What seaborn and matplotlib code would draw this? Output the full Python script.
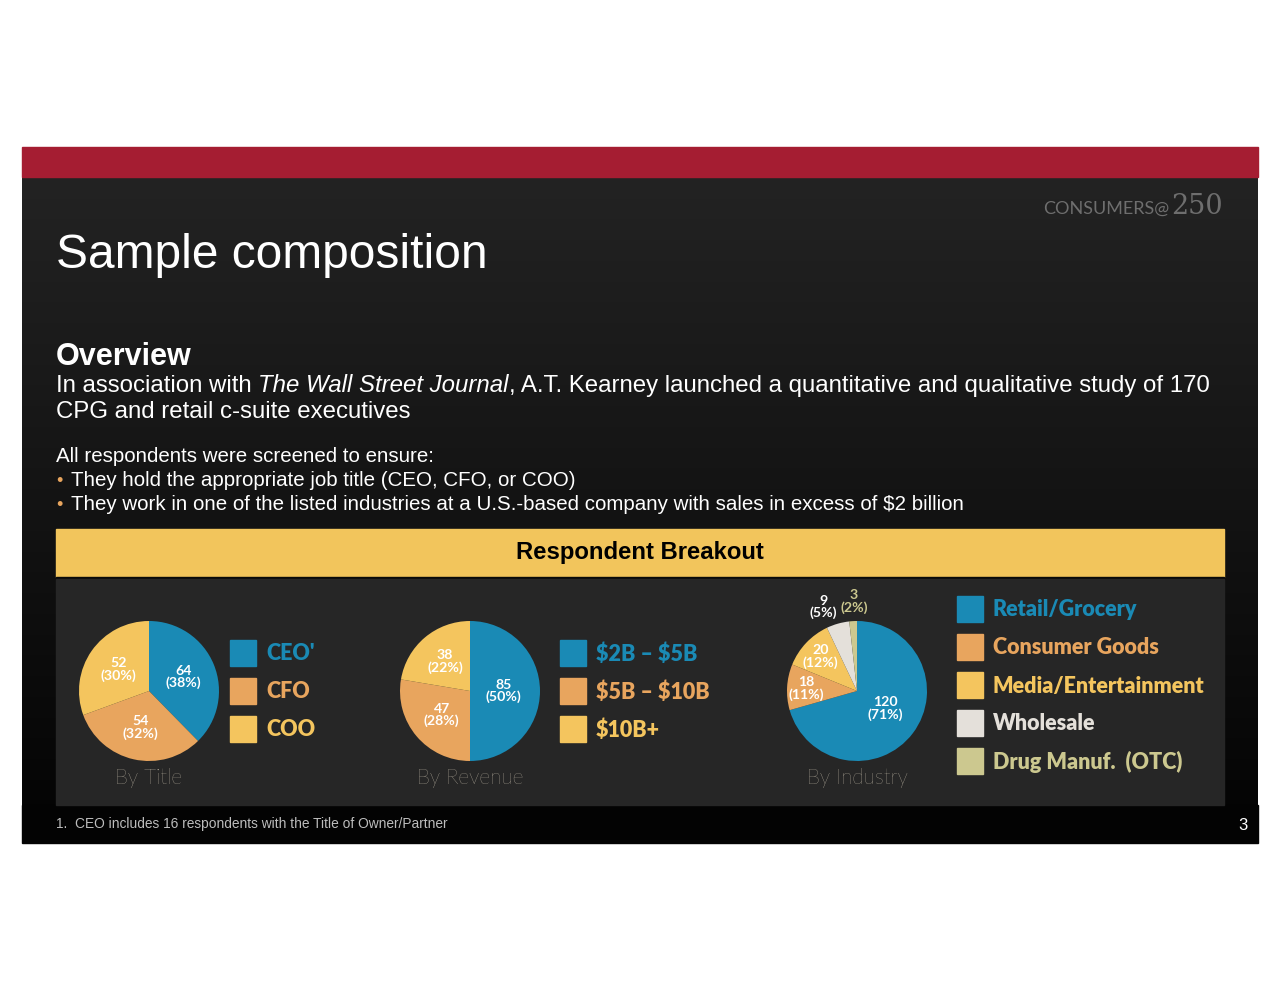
"""
Sample composition slide: three pies of the respondent breakout.
"""

import numpy as np
import matplotlib.pyplot as plt
import seaborn as sns
from matplotlib.patches import Rectangle


# Data
title_labels = ["CEO'", "CFO", "COO"]
title_counts = [64, 54, 52]
title_pcts = [38, 32, 30]

revenue_labels = ["$2B \u2013 $5B", "$5B \u2013 $10B", "$10B+"]
revenue_counts = [85, 47, 38]
revenue_pcts = [50, 28, 22]

industry_labels = ["Retail/Grocery", "Consumer Goods", "Media/Entertainment",
                   "Wholesale", "Drug Manuf.  (OTC)"]
industry_counts = [120, 18, 20, 9, 3]
industry_pcts = [71, 11, 12, 5, 2]

# Style
sns.set_theme(style="white")
plt.rcParams["font.family"] = ["Liberation Sans", "DejaVu Sans"]
plt.rcParams["text.parse_math"] = False

palette = sns.color_palette(["#1A8AB5", "#E8A55E", "#F4C55E", "#E4E0DA", "#CCC88F"])
W, H = 1280, 990

fig = plt.figure(figsize=(W / 100, H / 100), dpi=100)
fig.patch.set_facecolor("white")

bg = fig.add_axes([0, 0, 1, 1])
bg.set_xlim(0, W)
bg.set_ylim(H, 0)
bg.axis("off")
renderer = fig.canvas.get_renderer()

# slide background with vertical gradient
grad = np.linspace(0, 1, 256)[:, None]
cols = np.array([0x23, 0x23, 0x23]) / 255 * (1 - grad[..., None]) + \
    np.array([0x03, 0x03, 0x03]) / 255 * grad[..., None]
bg.imshow(cols, extent=(22, 1258, 843, 177), aspect="auto", zorder=0)
bg.add_patch(Rectangle((22, 147), 1236, 30, color="#A51D32", zorder=1))
bg.add_patch(Rectangle((22, 805), 1236, 38, color="#030303", zorder=1))

# banner and panel
bg.add_patch(Rectangle((56, 529), 1168, 48, color="#F2C55C", zorder=2))
bg.add_patch(Rectangle((56, 577), 1168, 2, color="#0a0a0a", zorder=2))
bg.add_patch(Rectangle((56, 579), 1168, 226, color="#262626", zorder=2))
bg.text(640, 553, "Respondent Breakout", ha="center", va="center",
        fontsize=17.2, fontweight="bold", color="black", zorder=3)

# logo
bg.text(1169, 209, "CONSUMERS@", ha="right", va="center", fontsize=13,
        color="#6e6e6e", family="Lato", zorder=3)
bg.text(1171, 207, "250", ha="left", va="center", fontsize=19.5,
        color="#6e6e6e", family="DejaVu Serif", zorder=3)


def chain(x, y, parts, **kw):
    # draw text pieces one after another on the same line
    for txt, extra in parts:
        t = bg.text(x, y, txt, ha="left", va="center", zorder=3, **kw, **extra)
        bb = t.get_window_extent(renderer)
        x += bb.width
    return x


bg.text(56, 256, "Sample composition", ha="left", va="center",
        fontsize=34.5, color="white", zorder=3)
bg.text(56, 357, "Overview", ha="left", va="center", fontsize=22,
        fontweight="bold", color="white", zorder=3)
chain(56, 386, [("In association with ", {}),
                ("The Wall Street Journal", {"style": "italic"}),
                (", A.T. Kearney launched a quantitative and qualitative study of 170", {})],
      fontsize=17.3, color="white")
bg.text(56, 412, "CPG and retail c-suite executives", ha="left", va="center",
        fontsize=17.3, color="white", zorder=3)

bg.text(56, 457, "All respondents were screened to ensure:", ha="left", va="center",
        fontsize=14.8, color="white", zorder=3)
bullets = ["They hold the appropriate job title (CEO, CFO, or COO)",
           "They work in one of the listed industries at a U.S.-based company with sales in excess of $2 billion"]
for i, b in enumerate(bullets):
    y = 481 + i * 24
    bg.text(56, y, "\u2022", ha="left", va="center", fontsize=13, color="#E8A55E", zorder=3)
    bg.text(71, y, b, ha="left", va="center", fontsize=14.8, color="white", zorder=3)

bg.text(56, 824, "1.  CEO includes 16 respondents with the Title of Owner/Partner",
        ha="left", va="center", fontsize=9.9, color="#bdbdbd", zorder=3)
bg.text(1243, 826, "3", ha="center", va="center", fontsize=12, color="white", zorder=3)


def pie_at(cx, cy, r, counts, pcts, label_r, caption, offsets=None, label_colors=None):
    ax = fig.add_axes([(cx - r) / W, 1 - (cy + r) / H, 2 * r / W, 2 * r / H])
    wedges, _ = ax.pie(counts, colors=palette[:len(counts)], startangle=90,
                       counterclock=False, radius=1,
                       wedgeprops=dict(linewidth=0))
    ax.set_xlim(-1, 1)
    ax.set_ylim(-1, 1)
    ax.set_aspect("equal")
    ax.axis("off")
    for i, w in enumerate(wedges):
        ang = np.deg2rad((w.theta1 + w.theta2) / 2)
        dx, dy = (offsets[i] if offsets else (0, 0))
        x = label_r[i] * np.cos(ang) + dx
        y = label_r[i] * np.sin(ang) + dy
        c = label_colors[i] if label_colors else "white"
        ax.text(x, y, f"{counts[i]}\n({pcts[i]}%)", ha="center", va="center",
                fontsize=10.2, fontweight="bold", color=c, family="Lato",
                linespacing=1.0, clip_on=False)
    bg.text(cx, 778, caption, ha="center", va="center", fontsize=15,
            color="#E3D9C4", family="Lato", fontweight="light", zorder=3)


def legend_at(x, y0, step, labels):
    for i, lab in enumerate(labels):
        y = y0 + i * step
        bg.add_patch(Rectangle((x, y - 13), 26, 26, color=palette[i], zorder=3))
        bg.text(x + 36, y + 1, lab, ha="left", va="center", fontsize=15.5,
                fontweight="heavy", color=palette[i], family="Lato", zorder=3)


pie_at(149, 691, 70, title_counts, title_pcts, [0.53, 0.53, 0.53], "By Title")
legend_at(230, 653, 38, title_labels)

pie_at(470, 691, 70, revenue_counts, revenue_pcts, [0.48, 0.53, 0.55], "By Revenue")
legend_at(560, 653, 38, revenue_labels)

pie_at(857, 691, 70, industry_counts, industry_pcts, [0.5, 0.72, 0.72, 1.25, 1.28],
       "By Industry", offsets=[(0, 0.05), (0, 0), (0, 0), (-0.14, 0), (0.03, 0)],
       label_colors=["white", "white", "white", "white", palette[4]])
legend_at(957, 609, 38, industry_labels)

plt.savefig("out.png", dpi=100, facecolor=fig.get_facecolor())
